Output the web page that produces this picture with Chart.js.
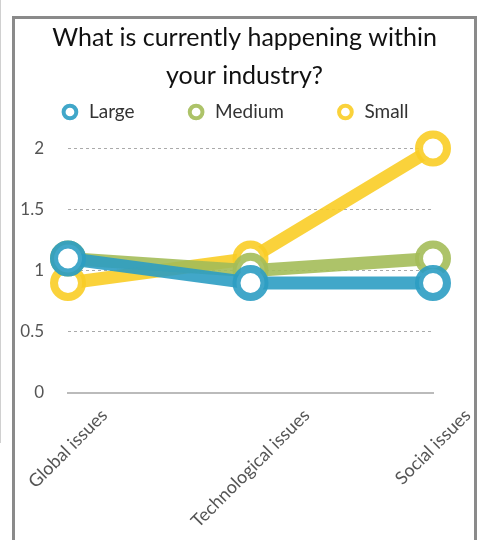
<!DOCTYPE html>
<html>
<head>
<meta charset="utf-8">
<script src="https://cdn.jsdelivr.net/npm/chart.js@4.4.1/dist/chart.umd.min.js"></script>
<style>
  html, body { margin: 0; padding: 0; background: #fff; overflow: hidden; }
  #edge { position: absolute; left: 0; top: 0; width: 1px; height: 443px; background: #d0d0d0; }
  #box { position: absolute; left: 12px; top: 16px; width: 459px; height: 560px; border: 3px solid #8a8a8a; }
  #wrap { position: absolute; left: 0; top: 0; width: 459px; height: 521px; }
</style>
</head>
<body>
<div id="edge"></div>
<div id="box"><div id="wrap"><canvas id="c"></canvas></div></div>
<script>
const titleLines = ['What is currently happening within', 'your industry?'];
const categories = ['Global issues', 'Technological issues', 'Social issues'];
const seriesNames = ['Large', 'Medium', 'Small'];
const largeValues = [1.1, 0.9, 0.9];
const mediumValues = [1.1, 1.0, 1.1];
const smallValues = [0.9, 1.1, 2.0];
const yTicks = [0, 0.5, 1, 1.5, 2];

const colors = ['rgba(44,157,195,0.9)', 'rgba(164,189,89,0.9)', 'rgba(250,205,38,0.9)'];
const values = [largeValues, mediumValues, smallValues];

const font = 'Lato, "Noto Sans", sans-serif';

const datasets = seriesNames.map((name, i) => ({
  label: name,
  data: values[i],
  borderColor: colors[i],
  backgroundColor: colors[i],
  borderWidth: 13,
  tension: 0,
  pointRadius: 14,
  pointHoverRadius: 14,
  pointBorderWidth: 8,
  pointHoverBorderWidth: 8,
  pointBackgroundColor: '#fff',
  pointBorderColor: colors[i],
  clip: false
}));

const xLabelPlugin = {
  id: 'xLabels',
  afterLayout(chart) {
    if (chart.legend) { chart.legend.left -= 10; chart.legend.right -= 10; }
  },
  afterDraw(chart) {
    const ctx = chart.ctx, xs = chart.scales.x;
    const size = 18;
    ctx.save();
    ctx.font = size + 'px ' + font;
    ctx.fillStyle = '#555';
    ctx.textAlign = 'center';
    ctx.textBaseline = 'middle';
    categories.forEach((c, i) => {
      const x = xs.getPixelForValue(i);
      const w = ctx.measureText(c).width;
      const top = chart.chartArea.bottom + 13;
      const cy = top + (w + size) * Math.SQRT1_2 / 2;
      ctx.save();
      ctx.translate(x, cy);
      ctx.rotate(-Math.PI / 4);
      ctx.fillText(c, 0, 0);
      ctx.restore();
    });
    ctx.restore();
  }
};

new Chart(document.getElementById('c'), {
  type: 'line',
  data: { labels: categories, datasets },
  plugins: [xLabelPlugin],
  options: {
    responsive: true,
    maintainAspectRatio: false,
    animation: false,
    events: [],
    layout: { padding: 0 },
    plugins: {
      title: {
        display: true,
        text: titleLines,
        color: '#111',
        font: { family: font, size: 25, weight: 'normal', lineHeight: 38 / 25 },
        padding: { top: 0, bottom: -44.5 }
      },
      subtitle: {
        display: true,
        text: ' ',
        weight: 0,
        font: { size: 10, lineHeight: 1 },
        padding: { top: 3, bottom: 4 }
      },
      legend: {
        display: true,
        labels: {
          usePointStyle: true,
          boxHeight: 9,
          padding: 52,
          color: '#333',
          font: { family: font, size: 19 },
          generateLabels(chart) {
            return chart.data.datasets.map((d, i) => ({
              text: d.label,
              fillStyle: '#fff',
              strokeStyle: d.borderColor,
              lineWidth: 4,
              pointStyle: 'circle',
              fontColor: '#333',
              datasetIndex: i,
              hidden: false
            }));
          }
        }
      },
      tooltip: { enabled: false }
    },
    scales: {
      x: {
        offset: false,
        grid: { display: false },
        border: { display: true, color: '#bbb', width: 2 },
        ticks: { display: false },
        afterFit(scale) { scale.height = 147; }
      },
      y: {
        min: 0,
        max: 2,
        afterBuildTicks(scale) { scale.ticks = yTicks.map(v => ({ value: v })); },
        grid: {
          drawTicks: false,
          color: ctx => (ctx.tick && ctx.tick.value === 0) ? 'rgba(0,0,0,0)' : '#aaa',
          lineWidth: 1
        },
        border: { display: false, dash: [3, 3] },
        ticks: {
          padding: 24,
          color: '#555',
          font: { family: font, size: 17 },
          callback: v => String(v)
        },
        afterFit(scale) { scale.width = 53; }
      },
      yRight: {
        type: 'linear',
        position: 'right',
        display: true,
        grid: { display: false },
        border: { display: false },
        ticks: { display: false },
        afterFit(scale) { scale.width = 41; }
      }
    }
  }
});
</script>
</body>
</html>
